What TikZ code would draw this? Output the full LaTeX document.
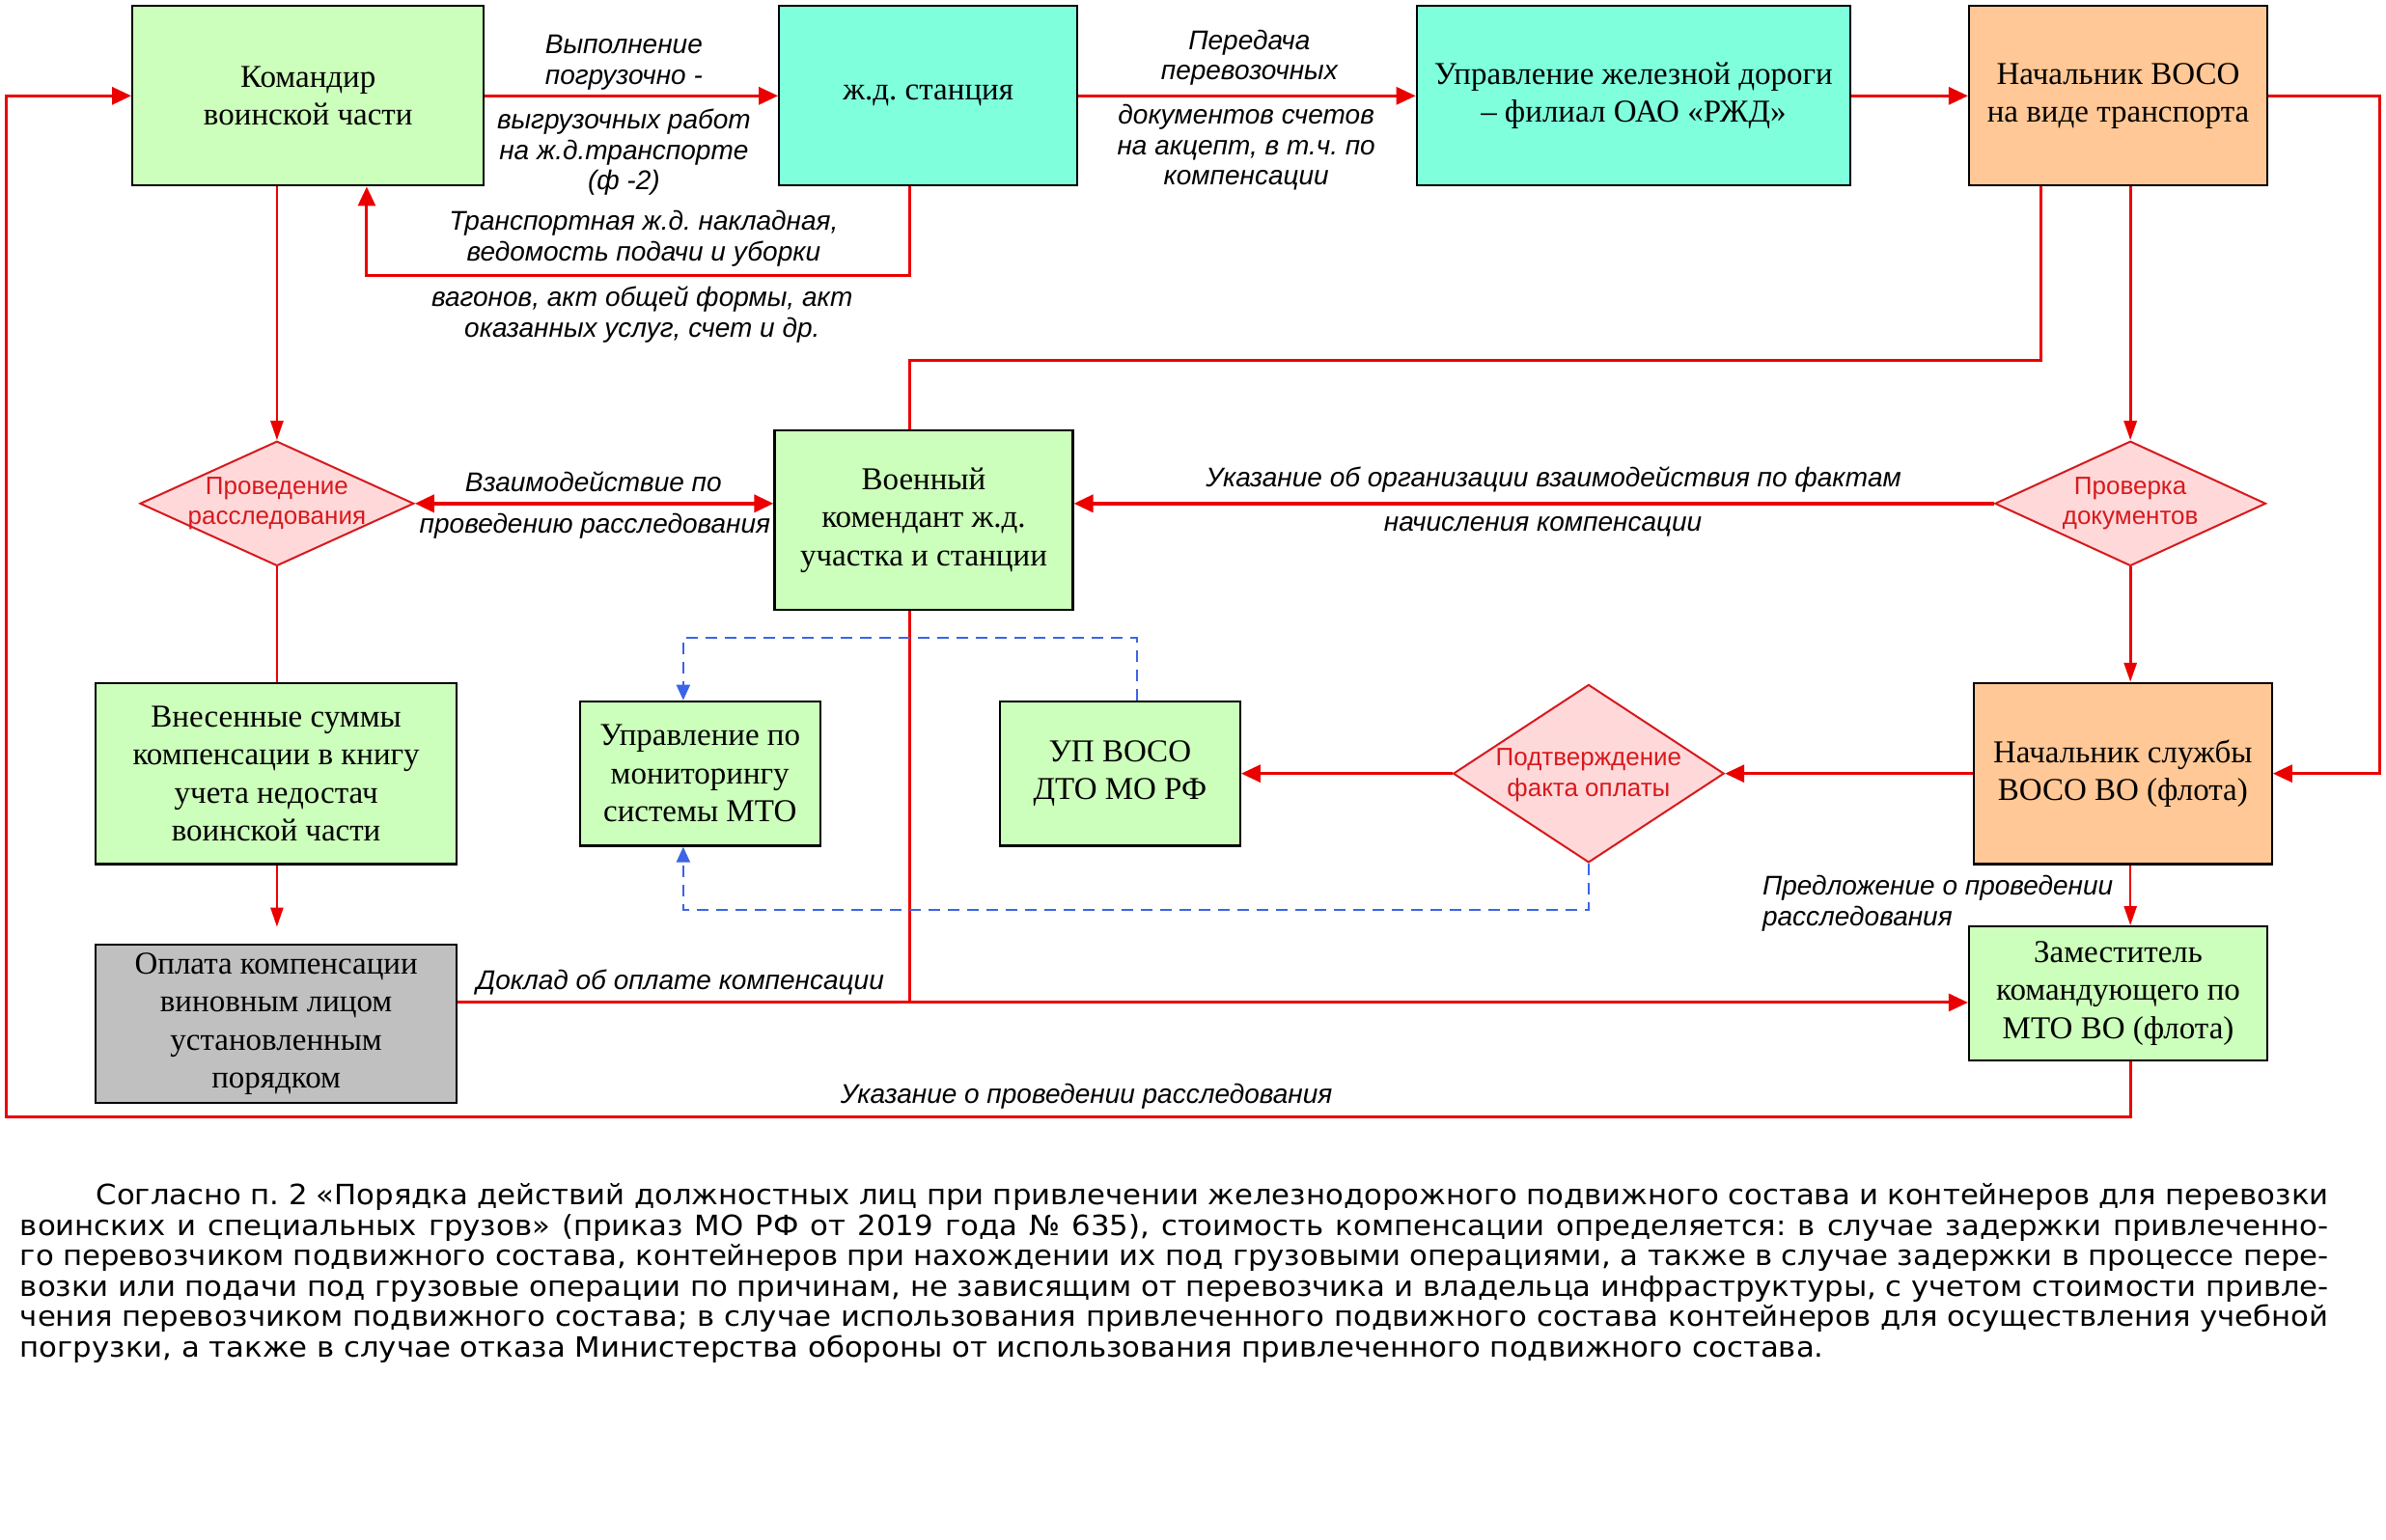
\documentclass[tikz,border=0pt]{standalone}
\usepackage{fontspec}
\setmainfont{Liberation Serif}
\newfontfamily\labfont{Liberation Sans}
\newfontfamily\parafont[FakeStretch=1.06]{DejaVu Sans}
\usetikzlibrary{arrows.meta,shapes.geometric}
\newdimen\upx \upx=0.788265pt
\definecolor{cgreen}{RGB}{204,255,187}
\definecolor{caqua}{RGB}{127,255,220}
\definecolor{cpeach}{RGB}{255,200,150}
\definecolor{cgray}{RGB}{192,192,192}
\definecolor{cpink}{RGB}{255,217,217}
\definecolor{cred}{RGB}{235,0,0}
\definecolor{cdred}{RGB}{215,25,30}
\definecolor{cblue}{RGB}{60,100,230}
\frenchspacing
\tikzset{
  box/.style={draw=black, line width=1.1pt, inner sep=0pt, align=center,
    font=\fontsize{16.5}{19.7}\selectfont},
  grn/.style={box, fill=cgreen},
  aqu/.style={box, fill=caqua},
  pch/.style={box, fill=cpeach},
  gry/.style={box, fill=cgray},
  dia/.style={diamond, draw=cdred, fill=cpink, line width=1pt, inner sep=0pt},
  dtext/.style={font=\labfont\fontsize{13}{15.8}\selectfont, text=cdred, align=center, inner sep=0pt},
  lbl/.style={font=\labfont\itshape\fontsize{14}{15.8}\selectfont, align=center, inner sep=0pt},
  conn/.style={draw=cred, line width=1.5pt},
  thin/.style={draw=cred, line width=1.2pt},
  arr/.style={-{Triangle[length=10pt,width=9pt]}},
  tarr/.style={-{Triangle[length=10pt,width=6.5pt]}},
  blu/.style={draw=cblue, line width=1pt, dash pattern=on 6pt off 4pt, -{Triangle[length=8pt,width=7pt]}},
  ptext/.style={font=\parafont\fontsize{14.5}{15.8}\selectfont, anchor=base west, inner sep=0pt},
}
\begin{document}
\begin{tikzpicture}[x={(0.788265pt,0pt)}, y={(0pt,-0.788265pt)}]
\path[fill=white, use as bounding box] (0,0) rectangle (1568,1012);

% boxes
\node[grn, minimum width=231\upx, minimum height=118\upx] (cmd) at (202.5,63) {Командир\\воинской части};
\node[aqu, minimum width=196\upx, minimum height=118\upx] (sta) at (610,63) {ж.д. станция};
\node[aqu, minimum width=285\upx, minimum height=118\upx] (upr) at (1073.5,63) {Управление железной дороги\\– филиал ОАО «РЖД»};
\node[pch, minimum width=196\upx, minimum height=118\upx] (voso) at (1392,63) {Начальник ВОСО\\на виде транспорта};
\node[grn, minimum width=196\upx, minimum height=118\upx] (kom) at (607,342) {Военный\\комендант ж.д.\\участка и станции};
\node[grn, minimum width=237\upx, minimum height=119\upx] (vnes) at (181.5,508.5) {Внесенные суммы\\компенсации в книгу\\учета недостач\\воинской части};
\node[grn, minimum width=158\upx, minimum height=95\upx] (mon) at (460,508.5) {Управление по\\мониторингу\\системы МТО};
\node[grn, minimum width=158\upx, minimum height=95\upx] (up) at (736,508.5) {УП ВОСО\\ДТО МО РФ};
\node[pch, minimum width=196\upx, minimum height=119\upx] (nsl) at (1395,508.5) {Начальник службы\\ВОСО ВО (флота)};
\node[gry, minimum width=237\upx, minimum height=104\upx] (opl) at (181.5,673) {Оплата компенсации\\виновным лицом\\установленным\\порядком};
\node[grn, minimum width=196\upx, minimum height=88\upx] (zam) at (1392,653) {Заместитель\\командующего по\\МТО ВО (флота)};

% diamonds
\node[dia, minimum width=180\upx, minimum height=82\upx] (prov) at (182,331) {};
\node[dtext] (provt) at (182,331) {Проведение\\расследования};
\node[dia, minimum width=178\upx, minimum height=82\upx] (prv) at (1400,331) {};
\node[dtext] (prvt) at (1400,331) {Проверка\\документов};
\node[dia, minimum width=178\upx, minimum height=117\upx] (podt) at (1044,508.5) {};
\node[dtext] (podtt) at (1044,509.5) {Подтверждение\\факта оплаты};

% helper coordinates
\coordinate (bA) at (598,181);
\coordinate (bB) at (241,181);
\coordinate (eR) at (1564,63);
\coordinate (fA) at (1341,237);
\coordinate (fB) at (598,237);
\coordinate (nY) at (0,659);
\coordinate (sA) at (1400,734);
\coordinate (sB) at (4,734);
\coordinate (tA) at (747,419);
\coordinate (tB) at (449,419);
\coordinate (uY) at (0,598);

% red connectors
\draw[conn, arr] (cmd.east) -- (sta.west);
\draw[conn, arr] (sta.south -| bA) -- (bA) -- (bB) -- (cmd.south -| bB);
\draw[conn, arr] (sta.east) -- (upr.west);
\draw[conn, arr] (upr.east) -- (voso.west);
\draw[conn, arr] (voso.east) -- (eR) -- (eR |- nsl.east) -- (nsl.east);
\draw[conn] (voso.south -| fA) -- (fA) -- (fB) -- (kom.north -| fB);
\draw[conn, tarr] (voso.south -| prv.north) -- (prv.north);
\draw[conn, arr, line width=1.8pt] (prv.west) -- (prv.west -| kom.east);
\draw[conn, tarr] (prv.south) -- (nsl.north -| prv.south);
\draw[thin, tarr] (cmd.south -| prov.north) -- (prov.north);
\draw[conn, {Triangle[length=10pt,width=9pt]}-{Triangle[length=10pt,width=9pt]}, line width=1.8pt] (prov.east) -- (prov.east -| kom.west);
\draw[thin] (prov.south) -- (vnes.north -| prov.south);
\draw[thin, tarr, shorten >=11\upx] (vnes.south -| prov.south) -- (opl.north -| prov.south);
\draw[conn, arr] (opl.east |- nY) -- (zam.west |- nY);
\draw[conn] (kom.south -| fB) -- (fB |- nY);
\draw[conn, arr] (nsl.west) -- (podt.east);
\draw[conn, arr] (podt.west) -- (up.east);
\draw[thin, tarr] (nsl.south -| sA) -- (zam.north -| sA);
\draw[conn, arr] (zam.south -| sA) -- (sA) -- (sB) -- (sB |- cmd.west) -- (cmd.west);

% blue dashed connectors
\draw[blu] (up.north -| tA) -- (tA) -- (tB) -- (mon.north -| tB);
\draw[blu] (podt.south) -- (podt.south |- uY) -- (tB |- uY) -- (mon.south -| tB);

% connector labels
\node[lbl] (la1) at (410,41) {Выполнение\\погрузочно -};
\node[lbl] (la2) at (410,100) {выгрузочных работ\\на ж.д.транспорте\\(ф -2)};
\node[lbl] (lb1) at (423,157) {Транспортная ж.д. накладная,\\ведомость подачи и уборки};
\node[lbl] (lb2) at (422,207) {вагонов, акт общей формы, акт\\оказанных услуг, счет и др.};
\node[lbl] (lc1) at (821,38) {Передача\\перевозочных};
\node[lbl] (lc2) at (819,97) {документов счетов\\на акцепт, в т.ч. по\\компенсации};
\node[lbl] (lk1) at (390,317) {Взаимодействие по};
\node[lbl] (lk2) at (391,346) {проведению расследования};
\node[lbl] (lh1) at (1021,315) {Указание об организации взаимодействия по фактам};
\node[lbl] (lh2) at (1014,346) {начисления компенсации};
\node[lbl] (ln) at (447,646) {Доклад об оплате компенсации};
\node[lbl] (ls) at (714,721) {Указание о проведении расследования};
\node[lbl, align=left, anchor=west] (lr) at (1158,594) {Предложение о проведении\\расследования};

% paragraph
\node[ptext] (p1) at (63,792) {\makebox[1467\upx][s]{Согласно п. 2 «Порядка действий должностных лиц при привлечении железнодорожного подвижного состава и контейнеров для перевозки}};
\node[ptext] (p2) at (13,812) {\makebox[1517\upx][s]{воинских и специальных грузов» (приказ МО РФ от 2019 года № 635), стоимость компенсации определяется: в случае задержки привлеченно-}};
\node[ptext] (p3) at (13,832) {\makebox[1517\upx][s]{го перевозчиком подвижного состава, контейнеров при нахождении их под грузовыми операциями, а также в случае задержки в процессе пере-}};
\node[ptext] (p4) at (13,852) {\makebox[1517\upx][s]{возки или подачи под грузовые операции по причинам, не зависящим от перевозчика и владельца инфраструктуры, с учетом стоимости привле-}};
\node[ptext] (p5) at (13,872) {\makebox[1517\upx][s]{чения перевозчиком подвижного состава; в случае использования привлеченного подвижного состава контейнеров для осуществления учебной}};
\node[ptext] (p6) at (13,892) {погрузки, а также в случае отказа Министерства обороны от использования привлеченного подвижного состава.};
\end{tikzpicture}
\end{document}
